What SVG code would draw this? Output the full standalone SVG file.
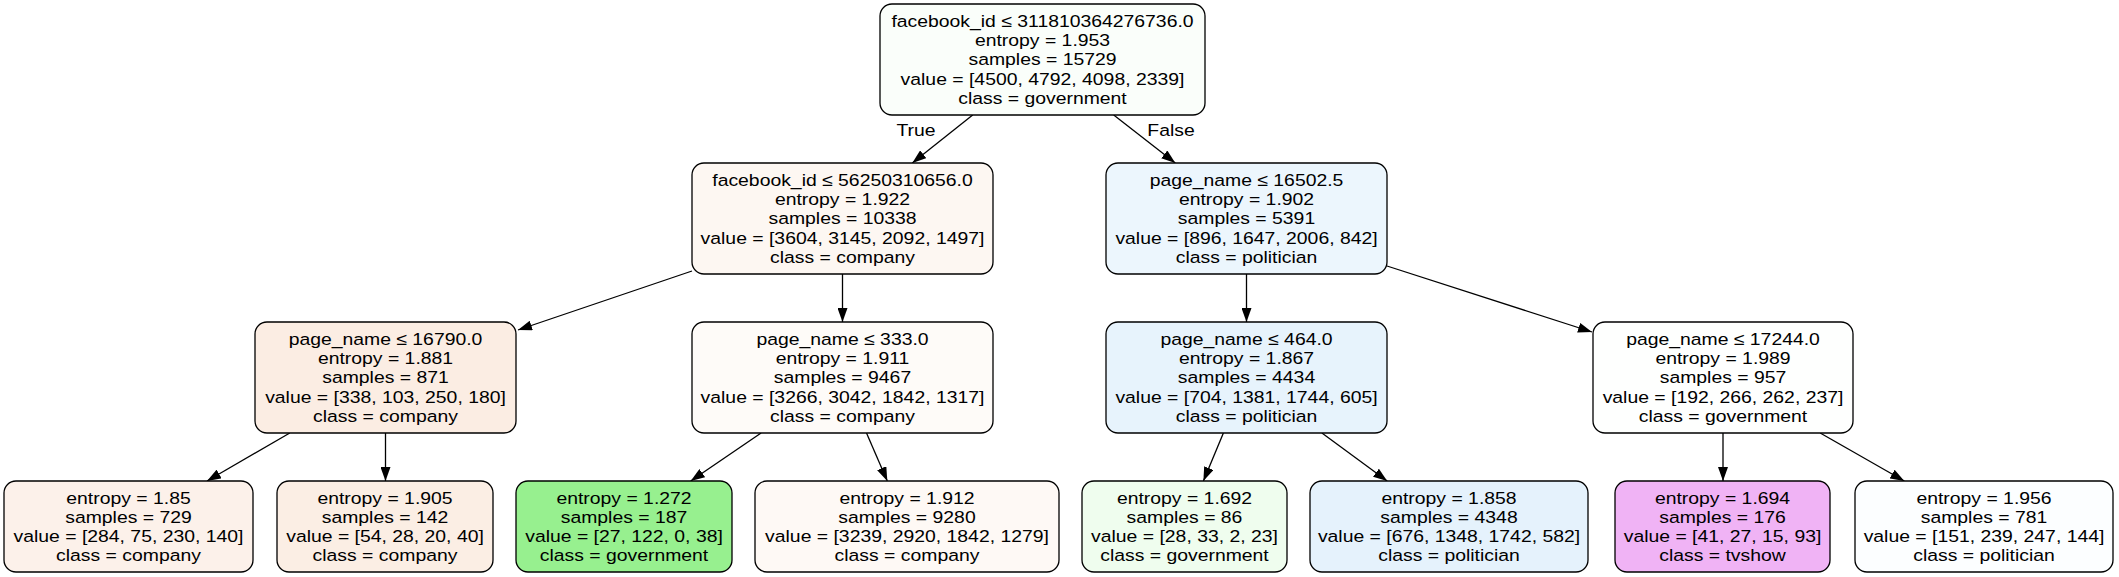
<svg xmlns="http://www.w3.org/2000/svg" width="2119" height="577" viewBox="0 0 2119 577">
<defs>
<style>
rect.box { stroke: #000; stroke-width: 1.3; }
text { font-family: "Liberation Sans", Arial, sans-serif; font-size: 17px; text-anchor: middle; fill: #000; }
.edges line { stroke: #000; stroke-width: 1.3; marker-end: url(#arrow); }
</style>
<marker id="arrow" viewBox="0 0 14 10" refX="14" refY="5" markerWidth="14" markerHeight="10" markerUnits="userSpaceOnUse" orient="auto">
<path d="M0,0 L14,5 L0,10 z" fill="#000"/>
</marker>
</defs>
<rect width="2119" height="577" fill="#fff"/>
<g class="edges" id="connectors">
<line x1="972.7" y1="115" x2="912.3" y2="163"/>
<line x1="1113.7" y1="115" x2="1175.3" y2="163"/>
<line x1="692" y1="271" x2="518" y2="330"/>
<line x1="842.5" y1="274" x2="842.5" y2="322"/>
<line x1="1246.5" y1="274" x2="1246.5" y2="322"/>
<line x1="1387" y1="266" x2="1592" y2="332"/>
<line x1="289.8" y1="433" x2="207" y2="481"/>
<line x1="385.5" y1="433" x2="385.5" y2="481"/>
<line x1="761.1" y1="433" x2="690.7" y2="481"/>
<line x1="866.5" y1="433" x2="887.3" y2="481"/>
<line x1="1223.4" y1="433" x2="1203.4" y2="481"/>
<line x1="1321.9" y1="433" x2="1387.2" y2="481"/>
<line x1="1723" y1="433" x2="1723" y2="481"/>
<line x1="1820.2" y1="433" x2="1904.3" y2="481"/>
<g transform="translate(916,0) scale(1.14,1)"><text x="0" y="136">True</text></g>
<g transform="translate(1171,0) scale(1.14,1)"><text x="0" y="136">False</text></g>
</g>
<g id="node0">
<rect class="box" x="880" y="4" width="325" height="111" rx="12" fill="#fafefa"/>
<g transform="translate(1042.5,0) scale(1.14,1)">
<text x="0" y="27">facebook_id ≤ 311810364276736.0</text>
<text x="0" y="46.2">entropy = 1.953</text>
<text x="0" y="65.4">samples = 15729</text>
<text x="0" y="84.6">value = [4500, 4792, 4098, 2339]</text>
<text x="0" y="103.8">class = government</text>
</g>
</g>
<g id="node1">
<rect class="box" x="692" y="163" width="301" height="111" rx="12" fill="#fdf7f2"/>
<g transform="translate(842.5,0) scale(1.14,1)">
<text x="0" y="186">facebook_id ≤ 56250310656.0</text>
<text x="0" y="205.2">entropy = 1.922</text>
<text x="0" y="224.4">samples = 10338</text>
<text x="0" y="243.6">value = [3604, 3145, 2092, 1497]</text>
<text x="0" y="262.8">class = company</text>
</g>
</g>
<g id="node2">
<rect class="box" x="1106" y="163" width="281" height="111" rx="12" fill="#ecf6fd"/>
<g transform="translate(1246.5,0) scale(1.14,1)">
<text x="0" y="186">page_name ≤ 16502.5</text>
<text x="0" y="205.2">entropy = 1.902</text>
<text x="0" y="224.4">samples = 5391</text>
<text x="0" y="243.6">value = [896, 1647, 2006, 842]</text>
<text x="0" y="262.8">class = politician</text>
</g>
</g>
<g id="node3">
<rect class="box" x="255" y="322" width="261" height="111" rx="12" fill="#fbede3"/>
<g transform="translate(385.5,0) scale(1.14,1)">
<text x="0" y="345">page_name ≤ 16790.0</text>
<text x="0" y="364.2">entropy = 1.881</text>
<text x="0" y="383.4">samples = 871</text>
<text x="0" y="402.6">value = [338, 103, 250, 180]</text>
<text x="0" y="421.8">class = company</text>
</g>
</g>
<g id="node4">
<rect class="box" x="692" y="322" width="301" height="111" rx="12" fill="#fefbf8"/>
<g transform="translate(842.5,0) scale(1.14,1)">
<text x="0" y="345">page_name ≤ 333.0</text>
<text x="0" y="364.2">entropy = 1.911</text>
<text x="0" y="383.4">samples = 9467</text>
<text x="0" y="402.6">value = [3266, 3042, 1842, 1317]</text>
<text x="0" y="421.8">class = company</text>
</g>
</g>
<g id="node5">
<rect class="box" x="1106" y="322" width="281" height="111" rx="12" fill="#e7f3fc"/>
<g transform="translate(1246.5,0) scale(1.14,1)">
<text x="0" y="345">page_name ≤ 464.0</text>
<text x="0" y="364.2">entropy = 1.867</text>
<text x="0" y="383.4">samples = 4434</text>
<text x="0" y="402.6">value = [704, 1381, 1744, 605]</text>
<text x="0" y="421.8">class = politician</text>
</g>
</g>
<g id="node6">
<rect class="box" x="1593" y="322" width="260" height="111" rx="12" fill="#fefffe"/>
<g transform="translate(1723,0) scale(1.14,1)">
<text x="0" y="345">page_name ≤ 17244.0</text>
<text x="0" y="364.2">entropy = 1.989</text>
<text x="0" y="383.4">samples = 957</text>
<text x="0" y="402.6">value = [192, 266, 262, 237]</text>
<text x="0" y="421.8">class = government</text>
</g>
</g>
<g id="leaf7">
<rect class="box" x="4" y="481" width="249" height="91" rx="12" fill="#fcf1ea"/>
<g transform="translate(128.5,0) scale(1.14,1)">
<text x="0" y="503.7">entropy = 1.85</text>
<text x="0" y="522.9">samples = 729</text>
<text x="0" y="542.1">value = [284, 75, 230, 140]</text>
<text x="0" y="561.3">class = company</text>
</g>
</g>
<g id="leaf8">
<rect class="box" x="277" y="481" width="216" height="91" rx="12" fill="#fbeee4"/>
<g transform="translate(385,0) scale(1.14,1)">
<text x="0" y="503.7">entropy = 1.905</text>
<text x="0" y="522.9">samples = 142</text>
<text x="0" y="542.1">value = [54, 28, 20, 40]</text>
<text x="0" y="561.3">class = company</text>
</g>
</g>
<g id="leaf9">
<rect class="box" x="516" y="481" width="216" height="91" rx="12" fill="#97f08f"/>
<g transform="translate(624,0) scale(1.14,1)">
<text x="0" y="503.7">entropy = 1.272</text>
<text x="0" y="522.9">samples = 187</text>
<text x="0" y="542.1">value = [27, 122, 0, 38]</text>
<text x="0" y="561.3">class = government</text>
</g>
</g>
<g id="leaf10">
<rect class="box" x="755" y="481" width="304" height="91" rx="12" fill="#fef9f5"/>
<g transform="translate(907,0) scale(1.14,1)">
<text x="0" y="503.7">entropy = 1.912</text>
<text x="0" y="522.9">samples = 9280</text>
<text x="0" y="542.1">value = [3239, 2920, 1842, 1279]</text>
<text x="0" y="561.3">class = company</text>
</g>
</g>
<g id="leaf11">
<rect class="box" x="1082" y="481" width="205" height="91" rx="12" fill="#effdee"/>
<g transform="translate(1184.5,0) scale(1.14,1)">
<text x="0" y="503.7">entropy = 1.692</text>
<text x="0" y="522.9">samples = 86</text>
<text x="0" y="542.1">value = [28, 33, 2, 23]</text>
<text x="0" y="561.3">class = government</text>
</g>
</g>
<g id="leaf12">
<rect class="box" x="1310" y="481" width="278" height="91" rx="12" fill="#e5f2fc"/>
<g transform="translate(1449,0) scale(1.14,1)">
<text x="0" y="503.7">entropy = 1.858</text>
<text x="0" y="522.9">samples = 4348</text>
<text x="0" y="542.1">value = [676, 1348, 1742, 582]</text>
<text x="0" y="561.3">class = politician</text>
</g>
</g>
<g id="leaf13">
<rect class="box" x="1615" y="481" width="215" height="91" rx="12" fill="#f0b3f5"/>
<g transform="translate(1722.5,0) scale(1.14,1)">
<text x="0" y="503.7">entropy = 1.694</text>
<text x="0" y="522.9">samples = 176</text>
<text x="0" y="542.1">value = [41, 27, 15, 93]</text>
<text x="0" y="561.3">class = tvshow</text>
</g>
</g>
<g id="leaf14">
<rect class="box" x="1855" y="481" width="258" height="91" rx="12" fill="#fcfeff"/>
<g transform="translate(1984,0) scale(1.14,1)">
<text x="0" y="503.7">entropy = 1.956</text>
<text x="0" y="522.9">samples = 781</text>
<text x="0" y="542.1">value = [151, 239, 247, 144]</text>
<text x="0" y="561.3">class = politician</text>
</g>
</g>
</svg>
